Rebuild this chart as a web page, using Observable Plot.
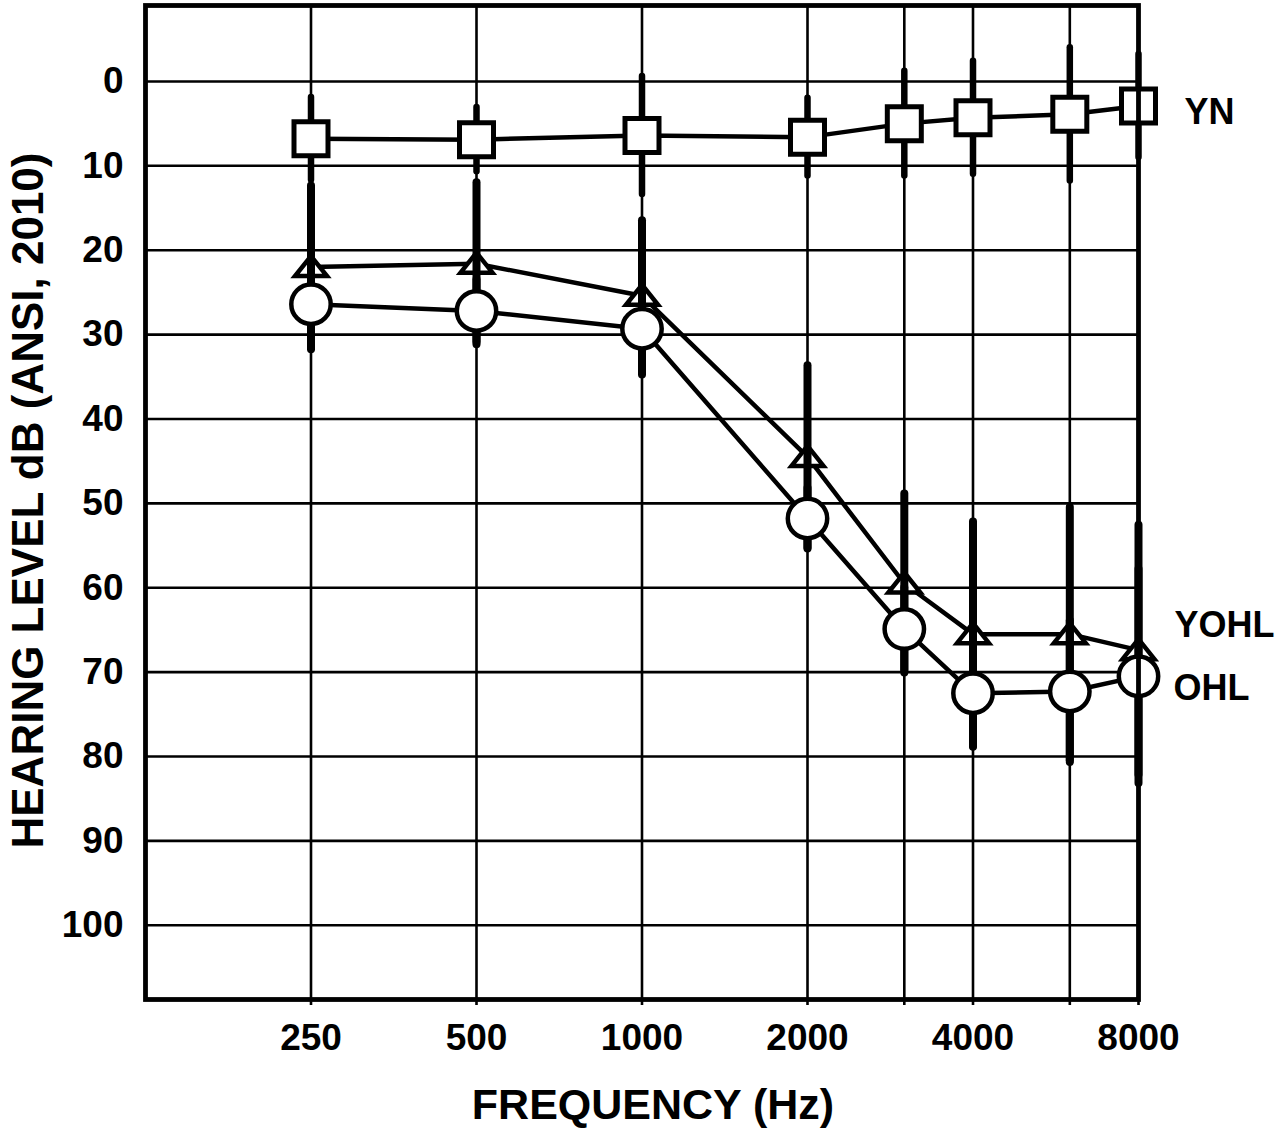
<!DOCTYPE html>
<html>
<head>
<meta charset="utf-8">
<script src="https://cdn.jsdelivr.net/npm/d3@7"></script>
<script src="https://cdn.jsdelivr.net/npm/@observablehq/plot@0.6"></script>
<style>
  html, body { margin: 0; padding: 0; background: #fff; }
  #chart svg { display: block; }
</style>
</head>
<body>
<div id="chart"></div>
<script>
// ---- data ----
const frequencies = [250, 500, 1000, 2000, 3000, 4000, 6000, 8000];
const labeledFrequencies = [250, 500, 1000, 2000, 4000, 8000];
const dbTicks = [0, 10, 20, 30, 40, 50, 60, 70, 80, 90, 100];

const ynMean   = [6.8, 6.9, 6.4, 6.6, 5.0, 4.3, 3.9, 2.9];
const ynSD     = [4.9, 3.8, 7.0, 4.6, 6.2, 6.7, 7.9, 6.1];
const yohlMean = [22.0, 21.6, 25.4, 44.5, 59.5, 65.5, 65.5, 67.4];
const yohlSD   = [9.6, 9.6, 8.9, 10.8, 10.6, 13.3, 15.0, 14.8];
const ohlMean  = [26.4, 27.2, 29.3, 51.8, 64.9, 72.5, 72.3, 70.5];
const ohlSD    = [5.4, 3.7, 5.5, 3.6, 4.9, 6.4, 8.4, 12.7];

const seriesNames = ["YN", "YOHL", "OHL"];
const xTitle = "FREQUENCY (Hz)";
const yTitle = "HEARING LEVEL dB (ANSI, 2010)";

// ---- build rows ----
function rows(name, mean, sd) {
  return frequencies.map((f, i) => ({series: name, f, v: mean[i], lo: mean[i] - sd[i], hi: mean[i] + sd[i]}));
}
const yn = rows("YN", ynMean, ynSD);
const yohl = rows("YOHL", yohlMean, yohlSD);
const ohl = rows("OHL", ohlMean, ohlSD);
const all = [...yn, ...yohl, ...ohl];

// ---- styles ----
const FONT = "'Liberation Sans', Arial, Helvetica, sans-serif";
const squareSym = {draw(ctx) { ctx.moveTo(-17, -17); ctx.lineTo(17, -17); ctx.lineTo(17, 17); ctx.lineTo(-17, 17); ctx.closePath(); }};
const triangleSym = {draw(ctx) { ctx.moveTo(0, -11); ctx.lineTo(16, 9); ctx.lineTo(-16, 9); ctx.closePath(); }};
const labelOffsets = {YN: {dx: 46, dy: 7}, YOHL: {dx: 36, dy: -25}, OHL: {dx: 35, dy: 12}};

const lastOf = {YN: yn[yn.length - 1], YOHL: yohl[yohl.length - 1], OHL: ohl[ohl.length - 1]};

const chart = Plot.plot({
  width: 1280,
  height: 1129,
  marginLeft: 145,
  marginRight: 142,
  marginTop: 5,
  marginBottom: 130,
  style: {fontFamily: FONT, fontWeight: "bold", background: "white", color: "black"},
  x: {type: "log", domain: [125, 8000], label: null},
  y: {domain: [-9, 108.8], reverse: true, label: null},
  marks: [
    Plot.gridY(dbTicks, {stroke: "black", strokeOpacity: 1, strokeWidth: 2.6}),
    Plot.gridX(frequencies, {stroke: "black", strokeOpacity: 1, strokeWidth: 2.6}),
    Plot.axisX(frequencies, {tickSize: 6, strokeWidth: 2.6, tickFormat: () => "", label: null}),
    // x tick labels
    Plot.text(labeledFrequencies, {x: (d) => d, text: (d) => String(d), frameAnchor: "bottom", lineAnchor: "top", dy: 24, fontSize: 37, fill: "black"}),
    Plot.axisY(dbTicks, {tickSize: 0, tickPadding: 22, fontSize: 37, tickFormat: (d) => String(d), label: null}),
    // YN error bars
    Plot.ruleX(yn, {x: "f", y1: "lo", y2: "hi", stroke: "black", strokeWidth: 6.5, strokeLinecap: "round"}),
    // connecting lines
    Plot.line(all, {x: "f", y: "v", z: "series", stroke: "black", strokeWidth: 4.5}),
    // triangles (YOHL)
    Plot.dot(yohl, {x: "f", y: "v", r: 18, symbol: triangleSym, fill: "white", stroke: "black", strokeWidth: 4.5, strokeLinejoin: "miter"}),
    // YOHL & OHL error bars
    Plot.ruleX(yohl, {x: "f", y1: "lo", y2: "hi", stroke: "black", strokeWidth: 8, strokeLinecap: "round"}),
    Plot.ruleX(ohl, {x: "f", y1: "lo", y2: "hi", stroke: "black", strokeWidth: 8, strokeLinecap: "round"}),
    // squares (YN)
    Plot.dot(yn, {x: "f", y: "v", r: 19, symbol: squareSym, fill: "white", stroke: "black", strokeWidth: 5, strokeLinejoin: "miter"}),
    // circles (OHL)
    Plot.dot(ohl, {x: "f", y: "v", r: 19.7, symbol: "circle", fill: "white", stroke: "black", strokeWidth: 4.5}),
    Plot.frame({stroke: "black", strokeWidth: 4.8}),
    // series labels
    ...seriesNames.map((name) => Plot.text([lastOf[name]], {
      x: "f", y: "v", text: (d) => d.series, textAnchor: "start", lineAnchor: "middle",
      dx: labelOffsets[name].dx, dy: labelOffsets[name].dy, fontSize: 36, fill: "black"
    })),
    // axis titles
    Plot.text([xTitle], {text: (d) => d, frameAnchor: "bottom", textAnchor: "middle", dx: 11, dy: 106, lineAnchor: "middle", fontSize: 43, fill: "black"}),
    Plot.text([yTitle], {text: (d) => d, frameAnchor: "left", textAnchor: "middle", rotate: -90, dx: -117, dy: -2, lineAnchor: "middle", fontSize: 44, fill: "black"})
  ]
});

document.getElementById("chart").appendChild(chart);
</script>
</body>
</html>
